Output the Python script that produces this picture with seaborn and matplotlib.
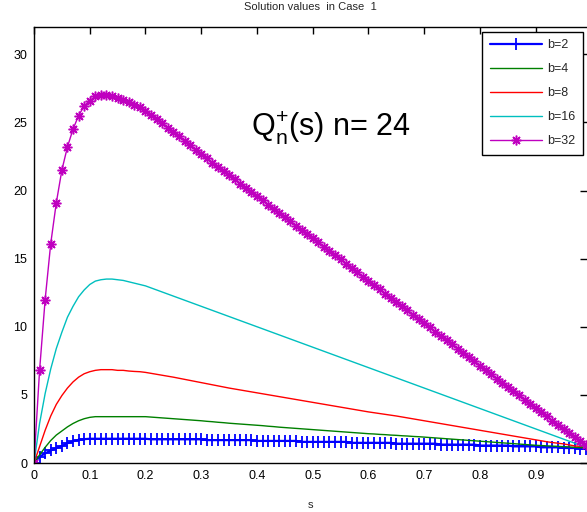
import numpy as np
import pandas as pd
import matplotlib
matplotlib.use("Agg")
import matplotlib.pyplot as plt
import seaborn as sns

sns.set_style("white")
plt.rcParams['font.family'] = ['Liberation Sans', 'DejaVu Sans']
plt.rcParams['mathtext.fontset'] = 'custom'
plt.rcParams['mathtext.rm'] = 'Liberation Sans'
plt.rcParams['mathtext.it'] = 'Liberation Sans'

# ---- data -------------------------------------------------------------
s_values = [round(0.01 * k, 2) for k in range(100)]

b32 = [0.0, 6.8, 12.0, 16.1, 19.1, 21.5, 23.2, 24.5, 25.5, 26.2,
       26.6, 26.9, 27.0, 27.0, 26.95, 26.8, 26.65, 26.5, 26.3, 26.1,
       25.85, 25.55, 25.25, 24.95, 24.6, 24.3, 24.0, 23.65, 23.35, 23.0,
       22.7, 22.4, 22.05, 21.75, 21.45, 21.15, 20.85, 20.5, 20.2, 19.9,
       19.6, 19.3, 18.95, 18.65, 18.35, 18.05, 17.75, 17.4, 17.1, 16.8,
       16.5, 16.2, 15.85, 15.55, 15.25, 14.95, 14.6, 14.3, 14.0, 13.65,
       13.35, 13.05, 12.75, 12.4, 12.1, 11.8, 11.5, 11.2, 10.85, 10.55,
       10.25, 9.95, 9.65, 9.3, 9.0, 8.7, 8.4, 8.1, 7.75, 7.45,
       7.15, 6.85, 6.55, 6.2, 5.9, 5.6, 5.3, 5.0, 4.65, 4.35,
       4.05, 3.75, 3.45, 3.1, 2.8, 2.5, 2.2, 1.9, 1.6, 1.3]

b16 = [0.0, 2.9, 5.1, 6.9, 8.4, 9.6, 10.7, 11.5, 12.2, 12.7,
       13.1, 13.35, 13.45, 13.5, 13.5, 13.45, 13.4, 13.3, 13.2, 13.1,
       13.0, 12.85, 12.7, 12.55, 12.4, 12.25, 12.1, 11.95, 11.8, 11.65,
       11.5, 11.35, 11.2, 11.05, 10.9, 10.75, 10.6, 10.45, 10.3, 10.15,
       10.0, 9.85, 9.7, 9.55, 9.4, 9.25, 9.1, 8.95, 8.8, 8.65,
       8.5, 8.35, 8.2, 8.05, 7.9, 7.75, 7.6, 7.45, 7.3, 7.15,
       7.0, 6.85, 6.7, 6.55, 6.4, 6.25, 6.1, 5.95, 5.8, 5.65,
       5.5, 5.35, 5.2, 5.05, 4.9, 4.75, 4.6, 4.45, 4.3, 4.15,
       4.0, 3.85, 3.7, 3.55, 3.4, 3.25, 3.1, 2.95, 2.8, 2.65,
       2.5, 2.35, 2.2, 2.05, 1.9, 1.75, 1.6, 1.45, 1.3, 1.2]

b8 = [0.0, 1.2, 2.4, 3.45, 4.3, 4.95, 5.5, 5.95, 6.3, 6.55,
      6.7, 6.8, 6.85, 6.85, 6.85, 6.8, 6.8, 6.75, 6.72, 6.7,
      6.65, 6.58, 6.51, 6.44, 6.37, 6.3, 6.22, 6.14, 6.06, 5.98,
      5.9, 5.82, 5.74, 5.66, 5.58, 5.5, 5.43, 5.36, 5.29, 5.22,
      5.15, 5.08, 5.01, 4.94, 4.87, 4.8, 4.73, 4.66, 4.59, 4.52,
      4.45, 4.38, 4.31, 4.24, 4.17, 4.1, 4.03, 3.96, 3.89, 3.82,
      3.75, 3.69, 3.63, 3.57, 3.51, 3.45, 3.38, 3.31, 3.24, 3.17,
      3.1, 3.03, 2.96, 2.89, 2.82, 2.75, 2.68, 2.61, 2.54, 2.47,
      2.4, 2.33, 2.26, 2.19, 2.12, 2.05, 1.98, 1.91, 1.84, 1.77,
      1.7, 1.63, 1.56, 1.5, 1.45, 1.4, 1.33, 1.25, 1.22, 1.2]

b4 = [0.0, 0.6, 1.15, 1.65, 2.05, 2.35, 2.65, 2.9, 3.1, 3.25,
      3.35, 3.4, 3.4, 3.4, 3.4, 3.4, 3.4, 3.4, 3.4, 3.4,
      3.4, 3.37, 3.34, 3.31, 3.28, 3.25, 3.22, 3.19, 3.16, 3.13,
      3.1, 3.06, 3.03, 2.99, 2.96, 2.92, 2.89, 2.86, 2.83, 2.8,
      2.77, 2.74, 2.7, 2.67, 2.63, 2.6, 2.57, 2.54, 2.51, 2.48,
      2.45, 2.42, 2.39, 2.36, 2.33, 2.3, 2.27, 2.24, 2.21, 2.18,
      2.15, 2.13, 2.1, 2.08, 2.05, 2.03, 2.0, 1.98, 1.95, 1.93,
      1.9, 1.87, 1.84, 1.81, 1.78, 1.75, 1.72, 1.69, 1.66, 1.63,
      1.6, 1.57, 1.54, 1.51, 1.48, 1.45, 1.42, 1.39, 1.36, 1.33,
      1.3, 1.28, 1.26, 1.24, 1.22, 1.2, 1.18, 1.15, 1.13, 1.1]

b2 = [0.0, 0.46, 0.7, 0.92, 1.1, 1.25, 1.45, 1.6, 1.7, 1.75,
      1.78, 1.78, 1.78, 1.78, 1.78, 1.78, 1.78, 1.78, 1.78, 1.78,
      1.78, 1.74, 1.74, 1.74, 1.74, 1.74, 1.74, 1.74, 1.74, 1.74,
      1.74, 1.68, 1.68, 1.68, 1.68, 1.68, 1.68, 1.68, 1.68, 1.68,
      1.62, 1.62, 1.62, 1.62, 1.62, 1.62, 1.62, 1.62, 1.55, 1.55,
      1.55, 1.55, 1.55, 1.55, 1.55, 1.55, 1.55, 1.48, 1.48, 1.48,
      1.48, 1.48, 1.48, 1.48, 1.48, 1.42, 1.42, 1.42, 1.42, 1.42,
      1.42, 1.42, 1.42, 1.35, 1.35, 1.35, 1.35, 1.35, 1.35, 1.35,
      1.28, 1.28, 1.28, 1.28, 1.28, 1.28, 1.22, 1.22, 1.22, 1.22,
      1.22, 1.15, 1.15, 1.15, 1.15, 1.1, 1.1, 1.1, 1.05, 1.05]

labels = ["b=2", "b=4", "b=8", "b=16", "b=32"]
series = [b2, b4, b8, b16, b32]
colors = ["#0000ff", "#008000", "#ff0000", "#00bfbf", "#bf00bf"]
markers = ["+", None, None, None, (8, 2, 0)]

title_text = "Solution values  in Case  1"
xlabel_text = "s"
annotation = r"$\mathrm{Q}_\mathrm{n}^{+}$(s) n= 24"

# ---- figure -----------------------------------------------------------
W, H = 587, 512
fig = plt.figure(figsize=(W / 100, H / 100), dpi=100)
ax = fig.add_axes([34 / W, (H - 463) / H, (587 - 34) / W, (463 - 27) / H])

for lab, vals, col, mk in zip(labels, series, colors, markers):
    kw = {}
    if mk == "+":
        kw = dict(marker=mk, markersize=8, markeredgewidth=1.3,
                  markeredgecolor=col, markerfacecolor=col)
    elif mk is not None:
        kw = dict(marker=mk, markersize=7, markeredgewidth=1.1,
                  markeredgecolor=col, markerfacecolor=col)
    lw = 1.6 if lab == "b=2" else 1.0
    sns.lineplot(x=s_values, y=vals, ax=ax, color=col, label=lab,
                 linewidth=lw, estimator=None, sort=False, **kw)

ax.set_xlim(0, 0.992)
ax.set_ylim(0, 32)
ax.set_xticks([0, 0.1, 0.2, 0.3, 0.4, 0.5, 0.6, 0.7, 0.8, 0.9])
ax.set_xticklabels(["0", "0.1", "0.2", "0.3", "0.4", "0.5", "0.6", "0.7", "0.8", "0.9"])
ax.set_yticks([0, 5, 10, 15, 20, 25, 30])
ax.tick_params(direction="in", top=True, right=True, length=5, width=1,
               labelsize=9, colors="black", pad=5)
for side in ["left", "bottom", "top"]:
    ax.spines[side].set_color("black")
    ax.spines[side].set_linewidth(1.0)
ax.spines["right"].set_visible(False)

ax.set_title(title_text, fontsize=8, pad=12)
ax.set_xlabel(xlabel_text, fontsize=8, labelpad=13)
ax.set_ylabel("")

ax.text(0.39, 24.0, annotation, fontsize=22, color="black",
        ha="left", va="baseline")

leg = ax.legend(loc="upper right", bbox_to_anchor=(583 / W, (H - 32) / H),
                bbox_transform=fig.transFigure, fontsize=9, frameon=True,
                fancybox=False, framealpha=1, edgecolor="black",
                handlelength=4.2, handletextpad=0.4, labelspacing=0.95,
                borderpad=0.6, borderaxespad=0)
leg.get_frame().set_linewidth(1.0)

fig.savefig("out.png", dpi=100)
